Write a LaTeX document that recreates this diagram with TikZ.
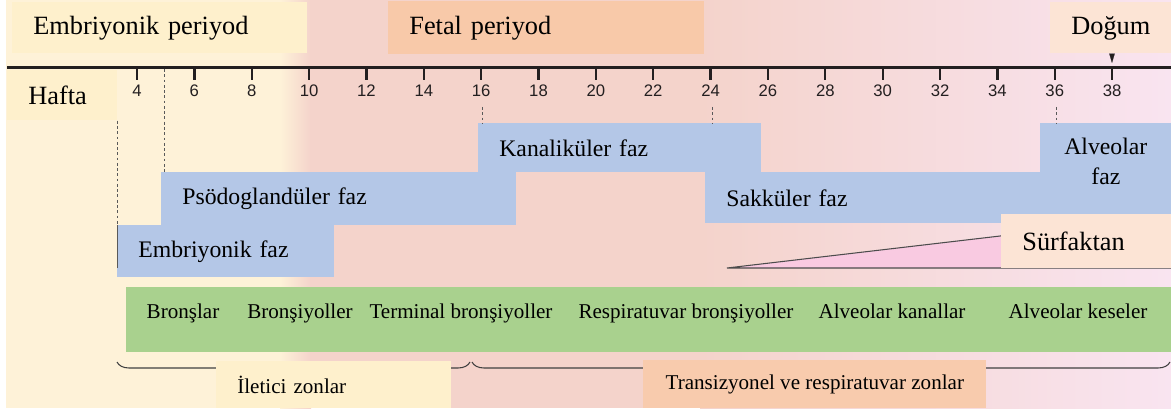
\documentclass[tikz,border=0pt]{standalone}
\usepackage{fontspec}
\setmainfont{Liberation Serif}
\newfontfamily\ticksans{Liberation Sans}
\usetikzlibrary{arrows.meta,decorations.pathreplacing}

\definecolor{bgcream}{HTML}{FEF2D8}
\definecolor{bgpink}{HTML}{F4D3CB}
\definecolor{bglav}{HTML}{F9E4F0}
\definecolor{hdcream}{HTML}{FEF0CC}
\definecolor{fetbox}{HTML}{F8C9A9}
\definecolor{birthbox}{HTML}{FCE4D5}
\definecolor{phaseblue}{HTML}{B4C7E7}
\definecolor{airgreen}{HTML}{A9D18E}
\definecolor{surfpink}{HTML}{F9CAE1}
\definecolor{zonepeach}{HTML}{F8CBAD}
\definecolor{inkgray}{HTML}{231F20}

\newcommand{\pxu}{0.02cm}

\tikzset{
  pbox/.style 2 args={anchor=north west, inner sep=0pt,
    minimum width=#1*\pxu, minimum height=#2*\pxu},
  padl/.style={text width=#1*\pxu-42*\pxu, inner xsep=21*\pxu, align=left},
  hdr/.style={font=\fontsize{15}{18}\selectfont},
  phase/.style={fill=phaseblue, font=\fontsize{13.5}{17}\selectfont},
  airlbl/.style={font=\fontsize{12}{14}\selectfont, inner sep=0pt, anchor=base},
  zone/.style={font=\fontsize{12}{14}\selectfont},
  ticklbl/.style={font=\ticksans\fontsize{9.5}{11}\selectfont, text=inkgray, inner sep=0pt},
  axisline/.style={line width=1.8pt, draw=inkgray},
  tickmark/.style={line width=1.3pt, draw=inkgray},
  guide/.style={draw=black!65, dash pattern=on 1.6pt off 1.4pt, line width=0.4pt},
  surfline/.style={draw=black!70, line width=0.6pt},
  zonebrace/.style={decorate, decoration={brace, mirror, amplitude=0.24cm},
    draw=black!75, line width=0.6pt}
}

\begin{document}
\begin{tikzpicture}[x=\pxu, y=-\pxu]
\useasboundingbox (0,0) rectangle (1171,412);

% background
\fill[bgcream] (6,0) rectangle (281,408);
\shade[left color=bgcream, right color=bgpink] (280,0) rectangle (311,408);
\fill[bgpink] (310,0) rectangle (701,408);
\shade[left color=bgpink, right color=bglav] (700,0) rectangle (1171,408);

% periods
\node[pbox={295}{51}, fill=hdcream, hdr, padl=295] (embper) at (12,2) {Embriyonik periyod};
\node[pbox={316}{53}, fill=fetbox, hdr, padl=316] (fetper) at (388,1) {Fetal periyod};
\node[pbox={121}{51}, fill=birthbox, hdr] (dogum) at (1050,2) {Doğum};
\node[pbox={110}{50}, fill=hdcream, hdr, padl=110] (hafta) at (7,70) {Hafta};

% week axis
\draw[axisline] (7,67.7) -- (1171,67.7);
\foreach \w in {4,6,...,38} {
  \pgfmathsetmacro{\tx}{137+(\w-4)*28.68}
  \draw[tickmark] (\tx,68) -- (\tx,80);
  \node[ticklbl] (wk\w) at (\tx,91) {\w};
}
\coordinate (birth) at (1112,63);
\draw[-{Triangle[length=0.19cm,width=0.11cm]}, draw=inkgray, line width=0.1pt] (birth |- dogum.south) -- (birth);

% phases
\node[pbox={283}{49}, phase, padl=283] (kanal) at (478,123) {Kanaliküler faz};
\node[pbox={355}{53}, phase, padl=355] (psodo) at (161,172) {Psödoglandüler faz};
\node[pbox={217}{52}, phase, padl=217] (embfaz) at (117,225) {Embriyonik faz};
\node[pbox={466}{51}, phase, padl=466] (sakkul) at (705,172) {Sakküler faz};
\node[pbox={131}{76}, phase, align=center] (alvfaz) at (1040,123) {Alveolar\\faz};

% guides
\draw[guide] (hafta.south east) -- (hafta.south east |- embfaz.north);
\draw[black!65, line width=0.4pt] (embfaz.north west) -- ++(0,43);
\coordinate (g5) at (164,69);
\draw[guide] (g5) -- (g5 |- psodo.north);
\coordinate (g16) at (482,107);
\draw[guide] (g16) -- (g16 |- kanal.north);
\coordinate (g24) at (712,107);
\draw[guide] (g24) -- (g24 |- kanal.north);
\coordinate (g36) at (1056,107);
\draw[guide] (g36) -- (g36 |- alvfaz.north);

% surfactant
\fill[surfpink] (727,268) -- (1171,216) -- (1171,268) -- cycle;
\draw[surfline] (1171,216) -- (727,268) -- (1171,268);
\node[pbox={170}{54}, fill=birthbox, hdr, padl=170] (surf) at (1001,214) {Sürfaktan};

% airways
\node[pbox={1045}{65}, fill=airgreen] (airbar) at (126,287) {};
\node[airlbl] (bronsl) at (183,318) {Bronşlar};
\node[airlbl] (bronsy) at (300,318) {Bronşiyoller};
\node[airlbl] (termb) at (461,318) {Terminal bronşiyoller};
\node[airlbl] (respb) at (686,318) {Respiratuvar bronşiyoller};
\node[airlbl] (alvkan) at (892,318) {Alveolar kanallar};
\node[airlbl] (alvkes) at (1078,318) {Alveolar keseler};

% zones
\draw[zonebrace] (117,362) -- (470,362);
\draw[zonebrace] (472,362) -- (1170,362);
\node[pbox={235}{47}, fill=hdcream, zone, padl=235, inner xsep=18*\pxu] (ilet) at (216,361) {İletici zonlar};
\node[pbox={343}{48}, fill=zonepeach, zone] (trans) at (643,360) {Transizyonel ve respiratuvar zonlar};
\end{tikzpicture}
\end{document}
